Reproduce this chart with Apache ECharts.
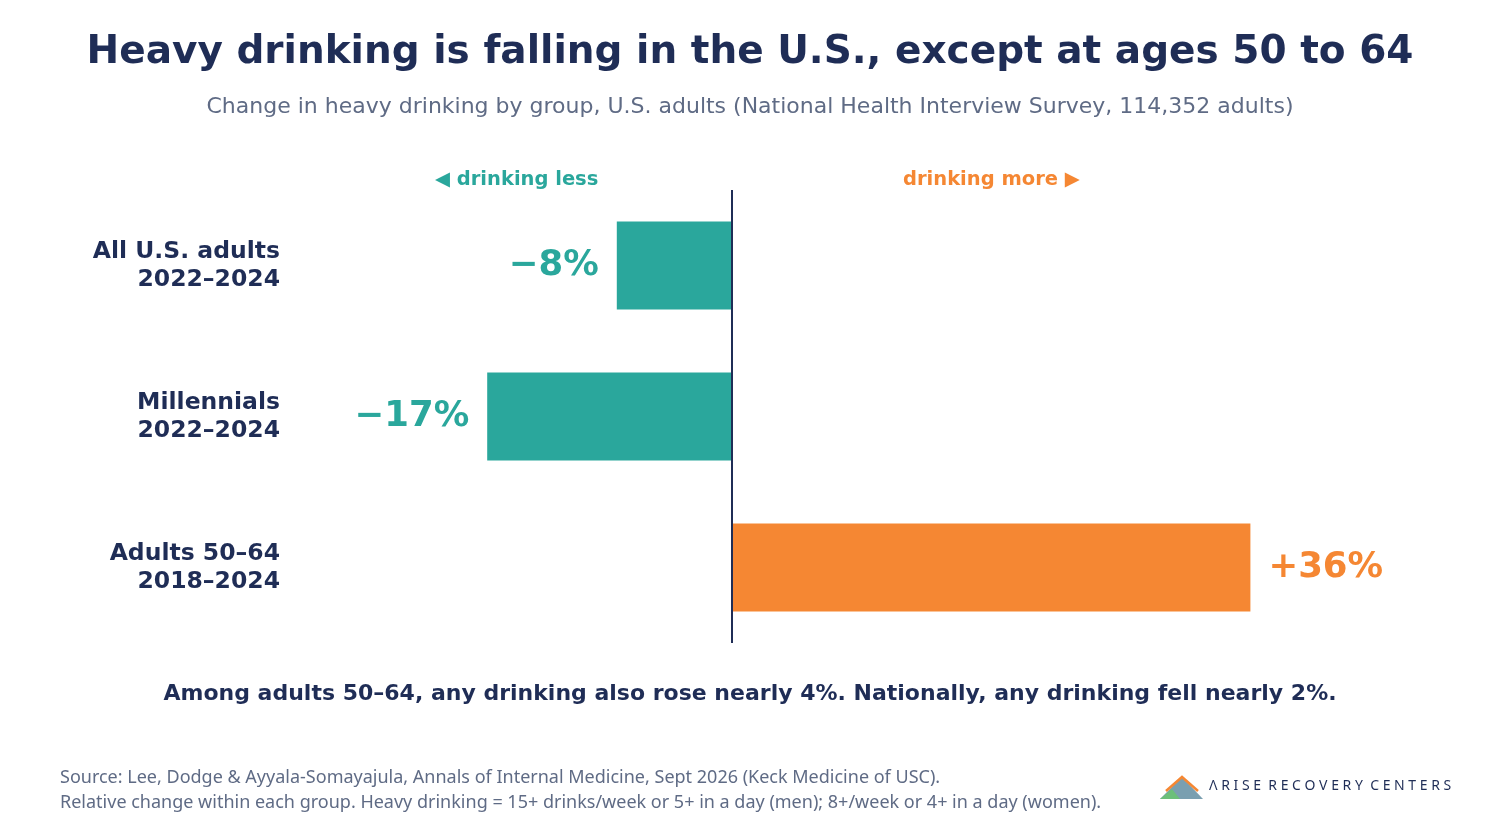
<!DOCTYPE html>
<html><head><meta charset="utf-8">
<script src="https://cdn.jsdelivr.net/npm/echarts@6/dist/echarts.min.js"></script>
<style>html,body{margin:0;padding:0;background:#fff}#c{width:1500px;height:840px}</style>
</head><body><div id="c"></div>
<script>
const categories = ["All U.S. adults\n2022–2024", "Millennials\n2022–2024", "Adults 50–64\n2018–2024"];
const values = [-8, -17, 36];
const valueLabels = ["−8%", "−17%", "+36%"];
const TEAL = "#2aa79c", ORANGE = "#f58733", NAVY = "#1f2d56", GREY = "#5f6b85";
const F = "DejaVu Sans";
const chart = echarts.init(document.getElementById('c'));
chart.setOption({
  backgroundColor: '#fff',
  animation: false,
  textStyle: {fontFamily: F},
  title: [
    {text: "Heavy drinking is falling in the U.S., except at ages 50 to 64", left: 'center', top: 28,
     textStyle: {fontFamily: F, fontSize: 39, fontWeight: 'bold', color: NAVY}},
    {text: "Change in heavy drinking by group, U.S. adults (National Health Interview Survey, 114,352 adults)", left: 'center', top: 91,
     textStyle: {fontFamily: F, fontSize: 22, fontWeight: 'normal', color: GREY}}
  ],
  grid: {left: 300, right: 120, top: 190, bottom: 197},
  xAxis: {type: 'value', min: -30, max: 45, show: false},
  yAxis: {type: 'category', data: categories, inverse: true,
    axisLine: {show: false}, axisTick: {show: false},
    axisLabel: {margin: 20, fontFamily: F, fontSize: 23.5, fontWeight: 'bold', color: NAVY, lineHeight: 28, align: 'right'}},
  series: [{
    type: 'bar', barWidth: 88,
    data: values.map((v, i) => ({value: v, itemStyle: {color: v < 0 ? TEAL : ORANGE},
      label: {show: true, position: v < 0 ? 'left' : 'right', distance: 18, formatter: valueLabels[i],
        fontFamily: F, fontSize: 35.5, fontWeight: 'bold', color: v < 0 ? TEAL : ORANGE}})),
    markLine: {silent: true, symbol: 'none', label: {show: false},
      lineStyle: {color: NAVY, width: 2, type: 'solid'}, data: [{xAxis: 0}]}
  }],
  graphic: [
    {type: 'text', left: 435, top: 170, style: {text: "◀ drinking less", fill: TEAL, font: "bold 19.5px 'DejaVu Sans'"}},
    {type: 'text', left: 903, top: 170, style: {text: "drinking more ▶", fill: ORANGE, font: "bold 19.5px 'DejaVu Sans'"}},
    {type: 'text', left: 'center', top: 683, style: {text: "Among adults 50–64, any drinking also rose nearly 4%. Nationally, any drinking fell nearly 2%.", fill: NAVY, font: "bold 22px 'DejaVu Sans'"}},
    {type: 'text', left: 60, top: 765, style: {text: "Source: Lee, Dodge & Ayyala-Somayajula, Annals of Internal Medicine, Sept 2026 (Keck Medicine of USC).\nRelative change within each group. Heavy drinking = 15+ drinks/week or 5+ in a day (men); 8+/week or 4+ in a day (women).", fill: GREY, font: "18px 'Noto Sans'", lineHeight: 25}},
    {type: 'polygon', shape: {points: [[1160,799],[1182,777],[1203,799]]}, style: {fill: '#7a9fb0'}},
    {type: 'polyline', shape: {points: [[1166,791],[1182,777],[1198,791]]}, style: {stroke: ORANGE, lineWidth: 2.5, fill: null}},
    {type: 'polygon', shape: {points: [[1160,799],[1172,789],[1180,799]]}, style: {fill: '#6cbf7a'}},
    {type: 'text', left: 1209, top: 779, style: {text: "Λ R I S E  R E C O V E R Y  C E N T E R S", fill: NAVY, font: "14px 'Noto Sans'"}}
  ]
});
</script></body></html>
